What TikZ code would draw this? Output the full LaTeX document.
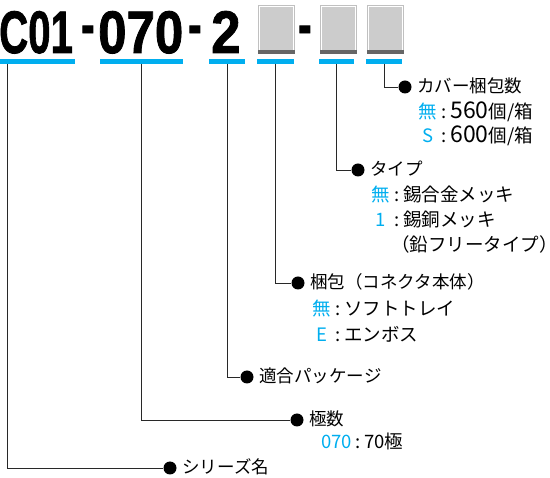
\documentclass[tikz,border=0pt]{standalone}
\usepackage{fontspec}
\usepackage{graphicx}
\usepackage{xcolor}
\usepackage{tikz}
\usetikzlibrary{calc,positioning}
\setmainfont{Noto Sans CJK JP}
\newfontfamily\codefont{Liberation Sans Bold}[FakeBold=1.5]
\definecolor{KeyBlue}{RGB}{0,174,239}
\definecolor{BoxFill}{RGB}{204,204,204}
\definecolor{BoxEdge}{RGB}{192,192,192}
\definecolor{BoxShade}{RGB}{102,102,102}
\definecolor{LeadGray}{RGB}{40,40,40}
\newcommand\squeeze[2]{\scalebox{#1}[1]{#2}}
\newcommand\keyline[2]{\makebox[21pt][c]{\textcolor{KeyBlue}{#1}}\makebox[12pt][c]{:}#2}
\newcommand\bignum[1]{{\fontsize{23}{20}\selectfont #1}}

\begin{document}
\begin{tikzpicture}[x=1pt, y=-1pt,
    codetext/.style={font=\codefont\fontsize{60}{60}\selectfont, inner sep=2pt, anchor=base west},
    codebar/.style={fill=KeyBlue, inner sep=0, minimum height=5pt, anchor=north west},
    blankbox/.style={draw=BoxEdge, line width=1.5pt, fill=BoxFill, inner sep=0,
        minimum width=35pt, minimum height=48pt, anchor=north west},
    leaddot/.style={circle, fill=black, inner sep=0, minimum size=13pt},
    lead/.style={draw=LeadGray, line width=0.8pt},
    heading/.style={font=\fontsize{17.5}{20}\selectfont, inner sep=0, anchor=west,
        text height=15pt, text depth=3pt},
    entry/.style={heading, font=\fontsize{18.5}{20}\selectfont}]
    \useasboundingbox (0,0) rectangle (550,478);
    \node[codetext] (part1) at (-3,53) {\squeeze{0.67}{C01}};
    \node[codetext] (dash1) at (79,45) {\squeeze{0.67}{-}};
    \node[codetext] (part2) at (96,53) {\squeeze{0.85}{070}};
    \node[codetext] (dash2) at (186,45) {\squeeze{0.67}{-}};
    \node[codetext] (part3) at (209,53) {\squeeze{0.88}{2}};
    \node[codetext] (dash3) at (296,45) {\squeeze{0.67}{-}};
    \foreach \x/\n in {258/box1, 320/box2, 367/box3} {
        \node[blankbox] (\n) at (\x,5) {};
        \draw[white, line width=0.6pt]
            ([shift={(1.6pt,-1.6pt)}]\n.north west) rectangle ([shift={(-1.6pt,1.6pt)}]\n.south east);
        \fill[BoxShade] ([yshift=4pt]\n.south west) rectangle (\n.south east);
    }
    \node[codebar, minimum width=75pt] (bar1) at (0,58.5) {};
    \node[codebar, minimum width=83pt] (bar2) at (100,58.5) {};
    \node[codebar, minimum width=36pt] (bar3) at (209,58.5) {};
    \node[codebar, minimum width=37pt] (bar4) at (257,58.5) {};
    \node[codebar, minimum width=35pt] (bar5) at (319,58.5) {};
    \node[codebar, minimum width=36pt] (bar6) at (366,58.5) {};

    \node[leaddot] (d1) at (170,468) {};
    \node[leaddot] (d2) at (297,420) {};
    \node[leaddot] (d3) at (247,377) {};
    \node[leaddot] (d4) at (298,283) {};
    \node[leaddot] (d5) at (358,170) {};
    \node[leaddot] (d6) at (405,87) {};
    \draw[lead] ([xshift=7pt]bar1.south west) |- (d1);
    \foreach \b/\d in {bar2/d2, bar3/d3, bar4/d4, bar5/d5, bar6/d6}
        \draw[lead] (\b.south) |- (\d);

    \node[heading, right=5.5pt of d1] (series) {シリーズ名};
    \node[heading, right=5.5pt of d2] (poles) {極数};
    \node[entry] (poles-070) at ([shift={(12pt,-23pt)}]poles.west)
        {\textcolor{KeyBlue}{070}\makebox[12pt][c]{:}70極};
    \node[heading, right=5.5pt of d3] (package) {適合パッケージ};
    \node[heading, right=5.5pt of d4] (packing) {梱包（コネクタ本体）};
    \node[entry] (packing-none) at ([shift={(1pt,-27pt)}]packing.west) {\keyline{無}{ソフトトレイ}};
    \node[entry] (packing-e) at ([shift={(1pt,-53pt)}]packing.west) {\keyline{E}{エンボス}};
    \node[heading, right=5.5pt of d5] (plating) {タイプ};
    \node[entry] (plating-none) at ([yshift=-26pt]plating.west) {\keyline{無}{錫合金メッキ}};
    \node[entry] (plating-1) at ([yshift=-51pt]plating.west) {\keyline{1}{錫銅メッキ}};
    \node[entry] (plating-pbfree) at ([yshift=-76pt]plating.west) {\hspace{21pt}（鉛フリータイプ）};
    \node[heading, right=5.5pt of d6] (cover) {カバー梱包数};
    \node[entry] (cover-none) at ([yshift=-26pt]cover.west) {\keyline{無}{\bignum{560}個/箱}};
    \node[entry] (cover-s) at ([yshift=-50pt]cover.west) {\keyline{S}{\bignum{600}個/箱}};
\end{tikzpicture}
\end{document}
